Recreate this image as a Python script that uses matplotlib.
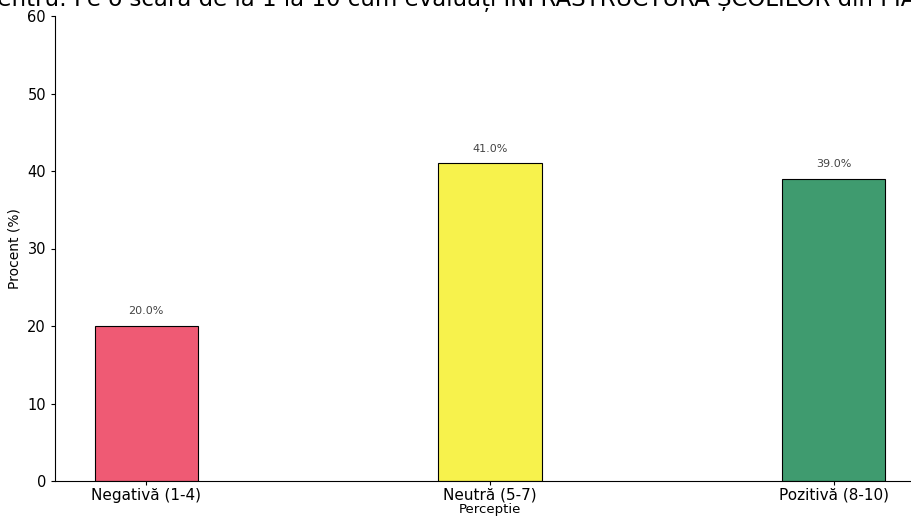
import numpy as np
import matplotlib
matplotlib.use('Agg')
import matplotlib.pyplot as plt

plt.rcParams['font.family'] = ['DejaVu Sans']

# data
categorii = ['Negativă (1-4)', 'Neutră (5-7)', 'Pozitivă (8-10)']
procente = [20.0, 41.0, 39.0]
culori = ['#ef5a74', '#f7f24c', '#3f9b6f']
titlu = ('Distribuția percepției pentru: Pe o scară de la 1 la 10 cum evaluați '
         'INFRASTRUCTURA ȘCOLILOR din PIATRA NEAMȚ?')

fig = plt.figure(figsize=(9.12, 5.19), dpi=100)
# axes run past the right edge, as in the cropped original
ax = fig.add_axes([55/912, 38/519, 870/912, 465/519])

x = np.arange(len(categorii))
bars = ax.bar(x, procente, width=0.3, color=culori, edgecolor='black', linewidth=0.8)

for b, v in zip(bars, procente):
    ax.annotate(f'{v:.1f}%', (b.get_x() + b.get_width()/2, v),
                xytext=(0, 7), textcoords='offset points',
                ha='center', va='bottom', fontsize=8, color='#444444')

ax.set_ylim(0, 60)
ax.set_xticks(x)
ax.set_xticklabels(categorii, fontsize=11)
ax.tick_params(axis='y', labelsize=10.5)
ax.tick_params(axis='x', pad=2)
ax.tick_params(length=3)
ax.set_xlabel('Perceptie', fontsize=9.5, labelpad=0)
ax.set_ylabel('Procent (%)', fontsize=10)
ax.spines['top'].set_visible(False)
ax.spines['right'].set_visible(False)

# title is cut off at the top and left like in the original crop
fig.text(-265/912, 1 - 6/519, titlu, ha='left', va='baseline', fontsize=16.5)

plt.savefig('out.png', dpi=100)
